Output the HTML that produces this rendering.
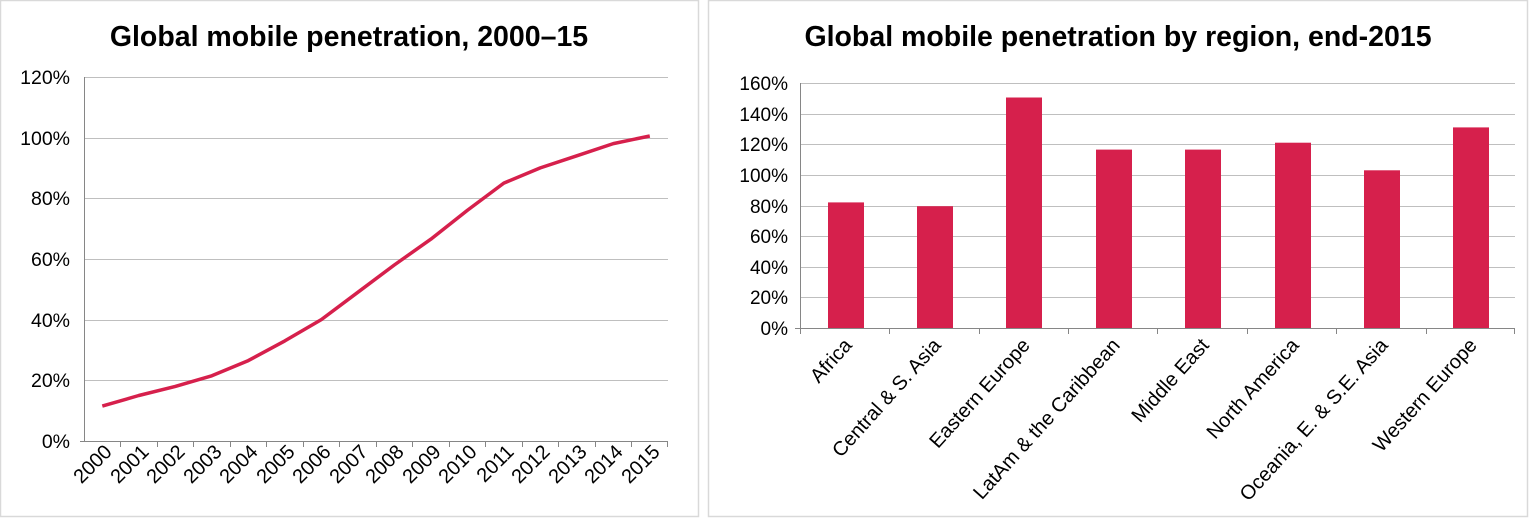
<!DOCTYPE html>
<html><head><meta charset="utf-8"><style>
body{margin:0;background:#fff;}
svg{display:block;font-family:"Liberation Sans",Arial,sans-serif;}
</style></head><body>
<svg width="1529" height="518" viewBox="0 0 1529 518">
<rect x="0.5" y="0.5" width="698" height="516" fill="#fff" stroke="#d9d9d9" stroke-width="1.5"/>
<rect x="708.5" y="0.5" width="819" height="516" fill="#fff" stroke="#d9d9d9" stroke-width="1.5"/>
<text x="349" y="46" text-anchor="middle" font-size="28.5" font-weight="bold">Global mobile penetration, 2000–15</text>
<text x="1118" y="46" text-anchor="middle" font-size="28.5" font-weight="bold">Global mobile penetration by region, end-2015</text>
<g stroke="#bfbfbf" stroke-width="1">
<line x1="84" x2="668" y1="77.5" y2="77.5"/><line x1="84" x2="668" y1="138.5" y2="138.5"/>
<line x1="84" x2="668" y1="198.5" y2="198.5"/><line x1="84" x2="668" y1="259.5" y2="259.5"/>
<line x1="84" x2="668" y1="320.5" y2="320.5"/><line x1="84" x2="668" y1="380.5" y2="380.5"/>
</g>
<g stroke="#868686" stroke-width="1">
<line x1="84.5" x2="84.5" y1="77" y2="441"/><line x1="80" x2="668" y1="441.5" y2="441.5"/>
</g>
<g font-size="19.5" text-anchor="end" fill="#000">
<text x="70" y="84">120%</text><text x="70" y="145">100%</text><text x="70" y="205">80%</text>
<text x="70" y="266">60%</text><text x="70" y="327">40%</text><text x="70" y="387">20%</text><text x="70" y="448">0%</text>
</g>
<polyline fill="none" stroke="#d6204c" stroke-width="3.5" stroke-linejoin="round" points="102.3,406.1 138.8,395.5 175.3,386.4 211.8,375.8 248.3,360.6 284.8,340.9 321.3,319.6 357.8,292.3 394.3,265.0 430.8,239.2 467.3,210.4 503.8,183.1 540.3,167.9 576.8,155.8 613.3,143.6 649.8,136.0"/>
<g stroke="#bfbfbf" stroke-width="1">
<line x1="800" x2="1515" y1="83.5" y2="83.5"/><line x1="800" x2="1515" y1="114.5" y2="114.5"/>
<line x1="800" x2="1515" y1="144.5" y2="144.5"/><line x1="800" x2="1515" y1="175.5" y2="175.5"/>
<line x1="800" x2="1515" y1="206.5" y2="206.5"/><line x1="800" x2="1515" y1="236.5" y2="236.5"/>
<line x1="800" x2="1515" y1="267.5" y2="267.5"/><line x1="800" x2="1515" y1="297.5" y2="297.5"/>
</g>
<g font-size="19" text-anchor="end" fill="#000">
<text x="788" y="90">160%</text><text x="788" y="121">140%</text><text x="788" y="151">120%</text>
<text x="788" y="182">100%</text><text x="788" y="213">80%</text><text x="788" y="243">60%</text>
<text x="788" y="274">40%</text><text x="788" y="304">20%</text><text x="788" y="335">0%</text>
</g>
<g fill="#d6204c">
<rect x="828" y="202.4" width="36" height="125.6"/>
<rect x="917" y="206.2" width="36" height="121.8"/>
<rect x="1006" y="97.5" width="36" height="230.5"/>
<rect x="1096" y="149.6" width="36" height="178.4"/>
<rect x="1185" y="149.6" width="36" height="178.4"/>
<rect x="1275" y="142.7" width="36" height="185.3"/>
<rect x="1364" y="170.3" width="36" height="157.7"/>
<rect x="1453" y="127.4" width="36" height="200.6"/>
</g>
<g stroke="#868686" stroke-width="1">
<line x1="800.5" x2="800.5" y1="83" y2="334"/><line x1="795" x2="1515" y1="328.5" y2="328.5"/>
<line x1="889.5" x2="889.5" y1="328" y2="334"/>
<line x1="979.5" x2="979.5" y1="328" y2="334"/><line x1="1068.5" x2="1068.5" y1="328" y2="334"/>
<line x1="1157.5" x2="1157.5" y1="328" y2="334"/><line x1="1247.5" x2="1247.5" y1="328" y2="334"/>
<line x1="1336.5" x2="1336.5" y1="328" y2="334"/><line x1="1426.5" x2="1426.5" y1="328" y2="334"/>
<line x1="1514.5" x2="1514.5" y1="328" y2="334"/>
</g>
<g font-size="20" text-anchor="end" fill="#000">
<text transform="translate(853,346) rotate(-48)">Africa</text>
<text transform="translate(942,346) rotate(-48)">Central &amp; S. Asia</text>
<text transform="translate(1031,346) rotate(-48)">Eastern Europe</text>
<text transform="translate(1121,346) rotate(-48)">LatAm &amp; the Caribbean</text>
<text transform="translate(1210,346) rotate(-48)">Middle East</text>
<text transform="translate(1300,346) rotate(-48)">North America</text>
<text transform="translate(1389,346) rotate(-48)">Oceania, E. &amp; S.E. Asia</text>
<text transform="translate(1478,346) rotate(-48)">Western Europe</text>
</g>
<g stroke="#868686" stroke-width="1">
<line x1="120.5" x2="120.5" y1="441" y2="447"/>
<line x1="157.5" x2="157.5" y1="441" y2="447"/><line x1="193.5" x2="193.5" y1="441" y2="447"/>
<line x1="230.5" x2="230.5" y1="441" y2="447"/><line x1="266.5" x2="266.5" y1="441" y2="447"/>
<line x1="303.5" x2="303.5" y1="441" y2="447"/><line x1="339.5" x2="339.5" y1="441" y2="447"/>
<line x1="376.5" x2="376.5" y1="441" y2="447"/><line x1="412.5" x2="412.5" y1="441" y2="447"/>
<line x1="449.5" x2="449.5" y1="441" y2="447"/><line x1="485.5" x2="485.5" y1="441" y2="447"/>
<line x1="522.5" x2="522.5" y1="441" y2="447"/><line x1="558.5" x2="558.5" y1="441" y2="447"/>
<line x1="595.5" x2="595.5" y1="441" y2="447"/><line x1="631.5" x2="631.5" y1="441" y2="447"/>
<line x1="667.5" x2="667.5" y1="441" y2="447"/>
</g>
<g font-size="20" text-anchor="end" fill="#000">
<text transform="translate(113,453) rotate(-45)">2000</text>
<text transform="translate(150,453) rotate(-45)">2001</text>
<text transform="translate(186,453) rotate(-45)">2002</text>
<text transform="translate(223,453) rotate(-45)">2003</text>
<text transform="translate(259,453) rotate(-45)">2004</text>
<text transform="translate(296,453) rotate(-45)">2005</text>
<text transform="translate(332,453) rotate(-45)">2006</text>
<text transform="translate(369,453) rotate(-45)">2007</text>
<text transform="translate(405,453) rotate(-45)">2008</text>
<text transform="translate(442,453) rotate(-45)">2009</text>
<text transform="translate(478,453) rotate(-45)">2010</text>
<text transform="translate(515,453) rotate(-45)">2011</text>
<text transform="translate(551,453) rotate(-45)">2012</text>
<text transform="translate(588,453) rotate(-45)">2013</text>
<text transform="translate(624,453) rotate(-45)">2014</text>
<text transform="translate(661,453) rotate(-45)">2015</text>
</g>
</svg>
</body></html>
